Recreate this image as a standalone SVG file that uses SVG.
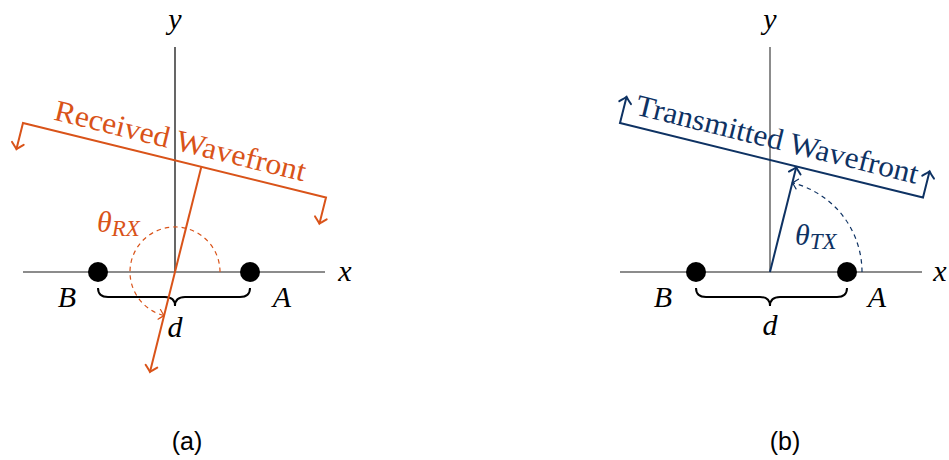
<svg xmlns="http://www.w3.org/2000/svg" width="949" height="460" viewBox="0 0 949 460">
<style>
.ax{stroke:#666;stroke-width:1.5;fill:none}
.axk{stroke:#000;stroke-width:1.2;fill:none}
.or{stroke:#D95319;stroke-width:2;fill:none}
.nv{stroke:#0E3263;stroke-width:2;fill:none}
.dor{stroke:#D95319;stroke-width:1.2;fill:none;stroke-dasharray:4.5 4}
.dnv{stroke:#0E3263;stroke-width:1.2;fill:none;stroke-dasharray:4.5 4}
.brace{stroke:#000;stroke-width:2;fill:none}
.cap{font-family:'Liberation Sans',Arial,sans-serif;font-size:25px;font-style:normal;text-anchor:middle}
</style>
<defs>
<marker id="aor" markerUnits="userSpaceOnUse" orient="auto-start-reverse" refX="0" refY="0" markerWidth="20" markerHeight="20" viewBox="-10 -10 20 20" overflow="visible">
<path d="M-6,-6 Q-1.5,-1.2 0,0 Q-1.5,1.2 -6,6" fill="none" stroke="#D95319" stroke-width="2" stroke-linecap="round"/>
</marker>
<marker id="anv" markerUnits="userSpaceOnUse" orient="auto-start-reverse" refX="0" refY="0" markerWidth="20" markerHeight="20" viewBox="-10 -10 20 20" overflow="visible">
<path d="M-6,-6 Q-1.5,-1.2 0,0 Q-1.5,1.2 -6,6" fill="none" stroke="#0E3263" stroke-width="2" stroke-linecap="round"/>
</marker>
<marker id="aors" markerUnits="userSpaceOnUse" orient="auto" refX="0" refY="0" markerWidth="20" markerHeight="20" viewBox="-10 -10 20 20" overflow="visible">
<path d="M-5,-5 Q-1.2,-1 0,0 Q-1.2,1 -5,5" fill="none" stroke="#D95319" stroke-width="1.2" stroke-linecap="round"/>
</marker>
<marker id="anvs" markerUnits="userSpaceOnUse" orient="auto" refX="0" refY="0" markerWidth="20" markerHeight="20" viewBox="-10 -10 20 20" overflow="visible">
<path d="M-5,-5 Q-1.2,-1 0,0 Q-1.2,1 -5,5" fill="none" stroke="#0E3263" stroke-width="1.2" stroke-linecap="round"/>
</marker>
</defs>
<rect width="949" height="460" fill="#fff"/>

<g font-family="'Liberation Serif','Times New Roman','DejaVu Serif',serif" font-style="italic" font-size="30">
<g id="panel-a">
  <g id="axes-a">
    <line class="ax" x1="23" y1="272" x2="325" y2="272"/>
    <line class="axk" x1="175" y1="47" x2="175" y2="272"/>
    <text x="175" y="29" text-anchor="middle">y</text>
    <text x="345" y="281" text-anchor="middle">x</text>
  </g>
  <g id="node-B-a">
    <circle cx="98" cy="272" r="10" fill="#000"/>
    <text x="67" y="307" text-anchor="middle">B</text>
  </g>
  <g id="node-A-a">
    <circle cx="250" cy="272" r="10" fill="#000"/>
    <text x="282" y="307" text-anchor="middle">A</text>
  </g>
  <g id="brace-a">
    <path class="brace" d="M98,288 Q98,297 108,297 L165,297 Q175,297 175,306 Q175,297 185,297 L240,297 Q250,297 250,288"/>
    <text x="175" y="337" text-anchor="middle">d</text>
  </g>
  <g id="wavefront-a">
    <path class="or" d="M16.4,149.2 L23,123 L326,197.5 L319.4,223.7" marker-start="url(#aor)" marker-end="url(#aor)"/>
    <text font-style="normal" fill="#D95319" text-anchor="middle" transform="translate(178,150.5) rotate(13.9)" textLength="258" lengthAdjust="spacingAndGlyphs">Received Wavefront</text>
  </g>
  <g id="connectors-a">
    <line class="or" x1="201.2" y1="167.2" x2="150" y2="372" marker-end="url(#aor)"/>
    <path class="dor" d="M220,272 A45,45 0 1 0 164.1,315.6" marker-end="url(#aors)"/>
  </g>
  <g id="theta-rx">
    <text x="97" y="232" fill="#D95319">θ<tspan font-size="23" dy="4">RX</tspan></text>
  </g>
  <text class="cap" x="187" y="450">(a)</text>
</g>

<g id="panel-b">
  <g id="axes-b">
    <line class="ax" x1="620" y1="272" x2="922" y2="272"/>
    <line class="ax" x1="770" y1="47" x2="770" y2="272"/>
    <text x="770" y="29" text-anchor="middle">y</text>
    <text x="940" y="281" text-anchor="middle">x</text>
  </g>
  <g id="node-B-b">
    <circle cx="696" cy="272" r="10" fill="#000"/>
    <text x="663" y="307" text-anchor="middle">B</text>
  </g>
  <g id="node-A-b">
    <circle cx="847" cy="272" r="10" fill="#000"/>
    <text x="877" y="307" text-anchor="middle">A</text>
  </g>
  <g id="brace-b">
    <path class="brace" d="M696,288 Q696,297 706,297 L760,297 Q770,297 770,306 Q770,297 780,297 L837,297 Q847,297 847,288"/>
    <text x="770" y="335" text-anchor="middle">d</text>
  </g>
  <g id="wavefront-b">
    <path class="nv" d="M626.6,96.8 L620,123 L923,197.5 L929.6,171.3" marker-start="url(#anv)" marker-end="url(#anv)"/>
    <text font-style="normal" fill="#0E3263" text-anchor="middle" transform="translate(775,149) rotate(13.9)" textLength="290" lengthAdjust="spacingAndGlyphs">Transmitted Wavefront</text>
  </g>
  <g id="connectors-b">
    <line class="nv" x1="770" y1="272" x2="796.2" y2="167.2" marker-end="url(#anv)"/>
    <path class="dnv" d="M862,272 A92,92 0 0 0 792.4,182.8" marker-end="url(#anvs)"/>
  </g>
  <g id="theta-tx">
    <text x="795" y="245" fill="#0E3263">θ<tspan font-size="23" dy="4">TX</tspan></text>
  </g>
  <text class="cap" x="785" y="450">(b)</text>
</g>
</g>
</svg>
